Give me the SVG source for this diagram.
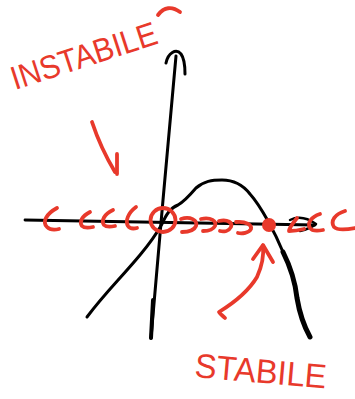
<svg xmlns="http://www.w3.org/2000/svg" width="355" height="399" viewBox="0 0 355 399">
<style>
.ink{fill:none;stroke:#000;stroke-linecap:round;stroke-linejoin:round}
.red{fill:none;stroke:#e8392b;stroke-width:3.8;stroke-linecap:round;stroke-linejoin:round}
.lbl{fill:#e8392b;font-family:"Liberation Sans",Arial,sans-serif;font-weight:normal}
</style>
<rect width="355" height="399" fill="#fff"/>
<g id="axes">
<path class="ink" stroke-width="2.8" d="M25,220 L315,225"/>
<path class="ink" stroke-width="2.5" d="M290,220 Q302,214 316,224 Q310,229 300,231"/>
<path class="ink" stroke-width="3" d="M176,56 L163,200 L151,338"/>
<path class="ink" stroke-width="4" d="M153,300 L151,338"/>
<path class="ink" stroke-width="3" d="M166,63 C168,53 176,48 181,54 C184,58 185,66 185,74"/>
</g>
<g id="curve">
<path class="ink" stroke-width="3" d="M87,317 C105,293 120,279 140,255 C150,243 157,233 162,224 C166,215 170,208 178,205 C185,201 190,195 196,188 C204,181 212,180 222,180 C234,180 243,185 250,194 C258,203 263,212 268,221 C273,230 278,240 283,252"/>
<path class="ink" stroke-width="5" d="M283,252 C290,266 295,280 297,298 C300,316 305,328 310,337"/>
</g>
<g id="flow">
<path class="red" d="M57,208 C46,214 42,222 47,227 C50,230 55,230 59,229"/>
<path class="red" d="M90,212 C82,216 79,222 82,226 C84,228 88,228 93,227"/>
<path class="red" d="M113,210 C104,214 101,221 104,225 C106,227 110,227 115,226"/>
<path class="red" d="M136,207 C128,213 125,221 128,226 C130,229 133,229 137,228"/>
<path class="red" d="M181,219 C190,216 198,220 196,226 C194,231 187,232 182,232"/>
<path class="red" d="M201,219 C211,217 217,221 215,226 C213,230 207,231 203,231"/>
<path class="red" d="M219,221 C228,219 233,223 231,227 C229,231 224,232 220,231"/>
<path class="red" d="M236,222 C246,221 252,225 251,229 C249,233 242,234 238,233"/>
<path class="red" d="M297,218 C293,223 289,228 289,231 C294,231 300,230 304,229"/>
<path class="red" d="M320,214 C311,217 307,223 310,228 C312,231 318,231 323,230"/>
<path class="red" d="M345,211 C335,214 330,221 334,227 C337,230 345,230 355,228"/>
</g>
<g id="equilibria">
<ellipse class="red" cx="163" cy="220" rx="12.5" ry="12"/>
<circle cx="269" cy="225" r="7" fill="#e8392b"/>
</g>
<g id="arrows">
<path class="red" d="M92,122 C98,140 106,157 115,172"/>
<path class="red" d="M117,154 L117,174"/>
<path class="red" d="M225,318 C222,315 219,313 219,312 C232,304 248,292 257,277 C262,266 264,256 263,246"/>
<path class="red" d="M253,259 L263,245 L273,262"/>
</g>
<g id="labels">
<text class="lbl" x="15" y="90" font-size="33" textLength="152" lengthAdjust="spacingAndGlyphs" transform="rotate(-18 15 90)">INSTABILE</text>
<path class="red" stroke-width="2.5" d="M158,15 C164,7 172,6 180,12"/>
<text class="lbl" x="194" y="377" font-size="34" textLength="132" lengthAdjust="spacingAndGlyphs" transform="rotate(5 194 377)">STABILE</text>
</g>
</svg>
